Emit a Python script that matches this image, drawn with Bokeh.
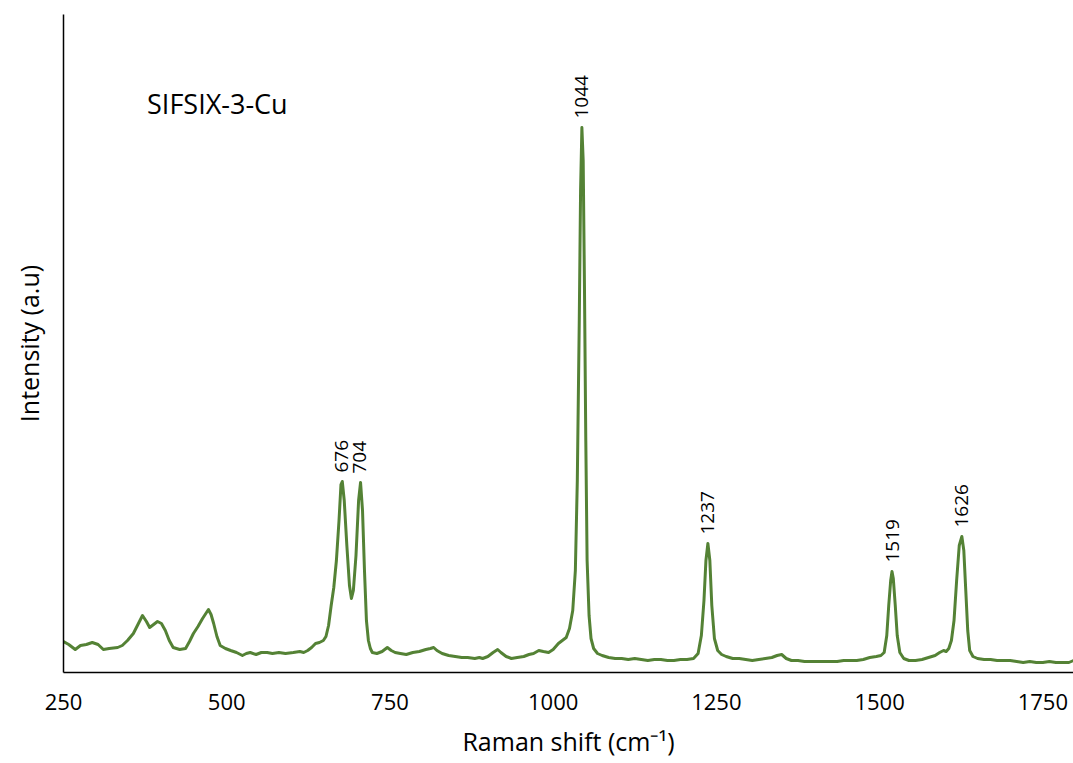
from bokeh.plotting import figure
from bokeh.models import ColumnDataSource, Range1d, FixedTicker
from bokeh.core.properties import value
from bokeh.embed import file_html
from bokeh.resources import INLINE
import math

# Raman spectrum (wavenumber in cm^-1, intensity in a.u.)
shift = [250, 258, 268, 276, 285, 294, 303, 311, 320, 333, 340, 348, 357, 364, 371, 377,
         382, 388, 394, 400, 406, 412, 418, 428, 437, 443, 449, 456, 463, 468, 472, 476,
         480, 485, 490, 498, 506, 515, 524, 530, 536, 545, 553, 562, 570, 580, 590, 602,
         612, 618, 624, 630, 636, 642, 648, 652, 656, 660, 664, 668, 672, 675, 677, 680,
         684, 688, 691, 694, 698, 702, 705, 708, 711, 714, 717, 720, 723, 730, 738, 746,
         752, 758, 766, 775, 785, 795, 805, 812, 817, 822, 830, 840, 850, 860, 869, 880,
         887, 892, 900, 908, 915, 920, 928, 936, 945, 955, 963, 970, 978, 985, 993, 1000,
         1008, 1014, 1020, 1025, 1030, 1034, 1037, 1040, 1042, 1044, 1046, 1048, 1050, 1052, 1055, 1058,
         1062, 1068, 1075, 1085, 1095, 1105, 1115, 1125, 1135, 1145, 1155, 1165, 1175, 1185, 1195, 1205,
         1215, 1222, 1227, 1231, 1234, 1237, 1240, 1243, 1247, 1252, 1258, 1265, 1275, 1285, 1295, 1305,
         1315, 1325, 1335, 1343, 1350, 1357, 1365, 1375, 1385, 1395, 1405, 1415, 1425, 1435, 1445, 1455,
         1465, 1475, 1485, 1495, 1502, 1507, 1511, 1514, 1517, 1519, 1521, 1524, 1527, 1531, 1537, 1545,
         1555, 1565, 1575, 1585, 1592, 1598, 1602, 1606, 1610, 1614, 1618, 1622, 1626, 1629, 1632, 1635,
         1638, 1643, 1650, 1660, 1670, 1680, 1690, 1700, 1710, 1720, 1730, 1740, 1750, 1760, 1770, 1780,
         1790, 1797]
intensity = [31, 28, 23, 27, 28, 30, 28, 23, 24, 25, 27, 32, 39, 48, 57, 51,
             45, 48, 51, 49, 42, 32, 25, 23, 24, 31, 39, 46, 54, 59, 63, 58,
             49, 36, 27, 24, 22, 20, 17, 19, 20, 18, 20, 20, 19, 20, 19, 20,
             21, 20, 22, 25, 29, 30, 32, 36, 47, 67, 85, 112, 152, 188, 191, 172,
             127, 87, 74, 82, 117, 172, 190, 162, 102, 52, 32, 24, 20, 19, 21, 25,
             22, 20, 19, 18, 20, 21, 23, 24, 25, 22, 19, 17, 16, 15, 15, 14,
             15, 14, 16, 20, 23, 20, 16, 14, 15, 16, 18, 19, 22, 21, 20, 23,
             29, 32, 35, 44, 62, 102, 192, 352, 482, 545, 512, 382, 232, 112, 57, 34,
             24, 19, 17, 15, 14, 14, 13, 14, 13, 12, 13, 13, 12, 12, 13, 13,
             14, 19, 37, 72, 112, 129, 112, 67, 34, 22, 18, 16, 14, 14, 13, 12,
             13, 14, 15, 17, 18, 14, 12, 12, 11, 11, 11, 11, 11, 11, 12, 12,
             12, 13, 15, 16, 17, 20, 37, 67, 92, 101, 94, 67, 37, 20, 14, 12,
             12, 13, 15, 17, 20, 22, 21, 24, 32, 52, 92, 127, 136, 122, 82, 42,
             22, 16, 14, 13, 13, 12, 12, 12, 11, 10, 11, 10, 10, 11, 10, 10,
             10, 12]

peak_pos = [676, 704, 1044, 1237, 1519, 1626]
peak_height = [191, 190, 545, 129, 101, 136]
peak_labels = ["676", "704", "1044", "1237", "1519", "1626"]

x_ticks = [250, 500, 750, 1000, 1250, 1500, 1750]
sample_name = "SIFSIX-3-Cu"

FONT = "Open Sans"
GREEN = "#548235"

p = figure(width=1073, height=763, output_backend="svg", toolbar_location=None,
           x_range=Range1d(250, 1797), y_range=Range1d(0, 658),
           min_border_left=63, min_border_right=0, min_border_top=14, min_border_bottom=91)
p.outline_line_color = None
p.xgrid.visible = False
p.ygrid.visible = False
p.background_fill_color = "white"
p.border_fill_color = "white"

src = ColumnDataSource(dict(x=shift, y=intensity))
p.line("x", "y", source=src, line_color=GREEN, line_width=3, line_join="round")

lab = ColumnDataSource(dict(x=peak_pos, y=peak_height, t=peak_labels))
p.text("x", "y", text="t", source=lab, angle=math.pi / 2, y_offset=-9,
       text_align="left", text_baseline="middle", text_font=value(FONT),
       text_font_size="19px", text_color="#000000")

p.text(x=[378], y=[569], text=[sample_name], text_align="left", text_baseline="middle",
       text_font=value(FONT), text_font_size="27px", text_color="#000000")

xa = p.xaxis[0]
xa.ticker = FixedTicker(ticks=x_ticks)
xa.axis_label = "Raman shift (cm\u207b\u00b9)"
xa.axis_label_text_font = FONT
xa.axis_label_text_font_style = "normal"
xa.axis_label_text_font_size = "25px"
xa.axis_label_text_color = "#000000"
xa.axis_label_standoff = 11
xa.major_label_text_font = FONT
xa.major_label_text_font_size = "22px"
xa.major_label_text_color = "#000000"
xa.major_label_standoff = 21
xa.major_tick_out = 0
xa.major_tick_in = 0
xa.minor_tick_out = 0
xa.minor_tick_in = 0
xa.axis_line_color = "#000000"
xa.axis_line_width = 1.5

ya = p.yaxis[0]
ya.ticker = FixedTicker(ticks=[])
ya.axis_label = "Intensity (a.u)"
ya.axis_label_text_font = FONT
ya.axis_label_text_font_style = "normal"
ya.axis_label_text_font_size = "25px"
ya.axis_label_text_color = "#000000"
ya.axis_label_standoff = 18
ya.major_tick_out = 0
ya.major_tick_in = 0
ya.minor_tick_out = 0
ya.minor_tick_in = 0
ya.axis_line_color = "#000000"
ya.axis_line_width = 1.5

open("out.html", "w").write(file_html(p, INLINE))
